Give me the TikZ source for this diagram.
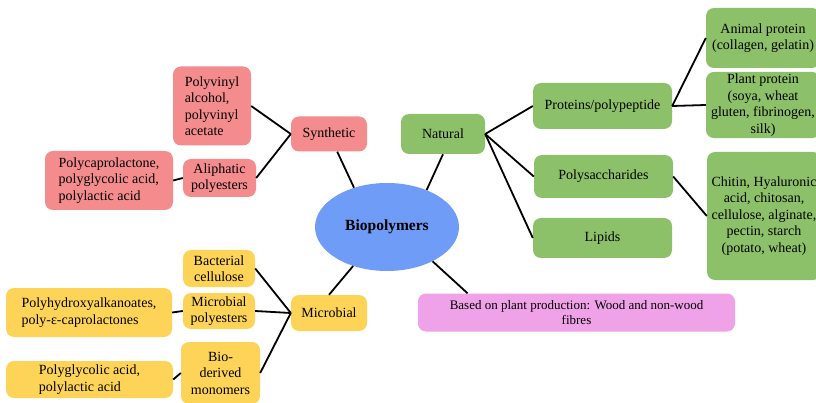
\documentclass[tikz,border=0pt]{standalone}
\usepackage{fontspec}
\setmainfont{Liberation Serif}
\usetikzlibrary{shapes.geometric}

\definecolor{synpink}{HTML}{F48B8C}
\definecolor{natgreen}{HTML}{8DC169}
\definecolor{micyellow}{HTML}{FDD457}
\definecolor{bioblue}{HTML}{6E9CF6}
\definecolor{plantviolet}{HTML}{F0A2E8}

\tikzset{
  box/.style={rectangle, rounded corners=8pt, inner sep=2pt, align=center,
    font=\fontsize{14}{16.5}\selectfont},
  synbox/.style={box, fill=synpink},
  natbox/.style={box, fill=natgreen},
  micbox/.style={box, fill=micyellow},
  link/.style={draw=black, line width=1.8pt}
}

\begin{document}
\begin{tikzpicture}[x=1pt, y=-1pt]
        \useasboundingbox (0,0) rectangle (816,403);
        \clip (0,0) rectangle (816,403);
        %
        \node [ellipse, fill=bioblue, minimum width=144, minimum height=88,
          font=\fontsize{15.5}{18}\selectfont\bfseries] (bio) at (387,227) {Biopolymers};
        %
        \node [synbox, minimum width=76, minimum height=35] (syn) at (329,134) {Synthetic};
        \node [synbox, minimum width=78, minimum height=79, align=left] (pva) at (212,106)
          {Polyvinyl\\alcohol,\\polyvinyl\\acetate};
        \node [synbox, minimum width=73, minimum height=38] (ali) at (219.5,178) {Aliphatic\\polyesters};
        \node [synbox, minimum width=128, minimum height=59, align=left] (pcl) at (109,180.5)
          {Polycaprolactone,\\polyglycolic acid,\\polylactic acid};
        %
        \node [natbox, minimum width=84, minimum height=40] (nat) at (443,134) {Natural};
        \node [natbox, minimum width=139, minimum height=46] (pp) at (602.5,106) {Proteins/polypeptide};
        \node [natbox, minimum width=139, minimum height=43] (ps) at (603.5,176.5) {Polysaccharides};
        \node [natbox, minimum width=139, minimum height=40] (lip) at (602.5,238) {Lipids};
        \node [natbox, minimum width=114, minimum height=60] (ani) at (763,38)
          {Animal protein\\(collagen, gelatin)};
        \node [natbox, minimum width=114, minimum height=64] (pla) at (763,105)
          {Plant protein\\(soya, wheat\\gluten, fibrinogen,\\silk)};
        \node [natbox, minimum width=114, minimum height=128] (chi) at (764,216)
          {Chitin, Hyaluronic\\acid, chitosan,\\cellulose, alginate,\\pectin, starch\\(potato, wheat)};
        %
        \node [box, fill=plantviolet, minimum width=317, minimum height=38,
          font=\fontsize{13}{15.5}\selectfont] (plant) at (576.5,312.5)
          {Based on plant production: Wood and non-wood\\fibres};
        %
        \node [micbox, minimum width=76, minimum height=36] (mic) at (329,313) {Microbial};
        \node [micbox, minimum width=72, minimum height=37] (bac) at (219,268.5) {Bacterial\\cellulose};
        \node [micbox, minimum width=72, minimum height=36] (mpe) at (219,311) {Microbial\\polyesters};
        \node [micbox, minimum width=79, minimum height=62] (bdm) at (220.5,373) {Bio-\\derived\\monomers};
        \node [micbox, minimum width=166, minimum height=49, align=left] (pha) at (89,312.5)
          {Polyhydroxyalkanoates,\\poly-ε-caprolactones};
        \node [micbox, minimum width=167, minimum height=37, align=left] (pga) at (89.5,379.5)
          {Polyglycolic acid,\\polylactic acid};
        %
        \draw [link] (syn) -- (bio.130);
        \draw [link] (nat.south) -- (bio.43);
        \draw [link] (mic.north) -- (bio.229);
        \draw [link] (bio.-37) -- (plant.170.6);
        %
        \draw [link] (pva.east) -- (syn.west);
        \draw [link] (ali.east) -- (syn.west);
        \draw [link] (pcl.east) -- (ali.west);
        %
        \draw [link] (nat.east) -- (pp.west);
        \draw [link] (nat.east) -- (ps.west);
        \draw [link] (nat.east) -- (lip.west);
        \draw [link] (pp.east) -- (ani.west);
        \draw [link] (pp.east) -- (pla.west);
        \draw [link] (ps.east) -- (chi.west);
        %
        \draw [link] (bac.east) -- (mic.west);
        \draw [link] (mpe.east) -- (mic.west);
        \draw [link] (bdm.east) -- (mic.west);
        \draw [link] (pha.east) -- (mpe.west);
        \draw [link] (pga.east) -- (bdm.west);
      \end{tikzpicture}
\end{document}
